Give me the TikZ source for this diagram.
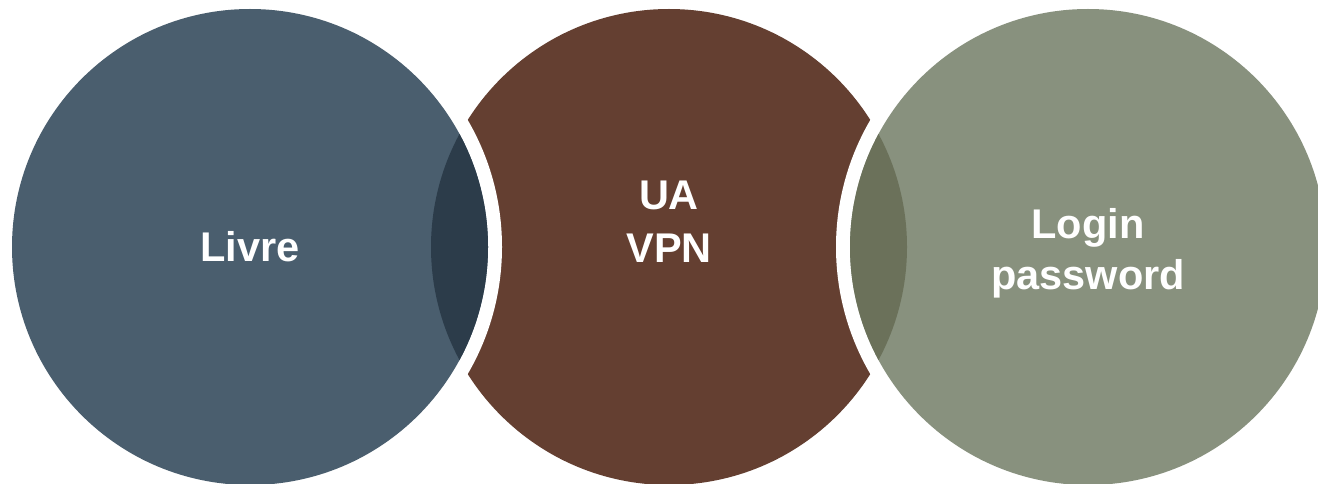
\documentclass[tikz,border=0pt]{standalone}
\usepackage{fontspec}
\setmainfont{Liberation Sans}
\definecolor{cblue}{HTML}{4A5E6E}
\definecolor{cbluedark}{HTML}{2C3C4A}
\definecolor{cbrown}{HTML}{643F31}
\definecolor{cgreen}{HTML}{88917E}
\definecolor{cgreendark}{HTML}{6B715A}
\tikzset{
  lbl/.style={text=white, font=\bfseries\fontsize{41.5}{50}\selectfont, inner sep=0pt, anchor=base},
}
\begin{document}
\begin{tikzpicture}[x=1pt,y=-1pt]
\useasboundingbox (0,0) rectangle (1318,484);
\fill[white] (0,0) rectangle (1318,484);
% middle circle (bottom layer)
\fill[cbrown] (669,247) circle (238pt);
% white rings of side circles
\fill[white] (250,247) circle (252pt);
\fill[white] (1088,247) circle (252pt);
% side circles
\fill[cblue] (250,247) circle (238pt);
\fill[cgreen] (1088,247) circle (238pt);
% overlap lenses
\begin{scope}
  \clip (250,247) circle (238pt);
  \fill[cbluedark] (669,247) circle (238pt);
\end{scope}
\begin{scope}
  \clip (1088,247) circle (238pt);
  \fill[cgreendark] (669,247) circle (238pt);
\end{scope}
% labels
\node[lbl] (livre) at (250,261) {Livre};
\node[lbl] (ua) at (669,210) {UA};
\node[lbl] (vpn) at (669,262) {VPN};
\node[lbl] (login) at (1088,238) {Login};
\node[lbl] (pwd) at (1088,289) {password};
\end{tikzpicture}
\end{document}
